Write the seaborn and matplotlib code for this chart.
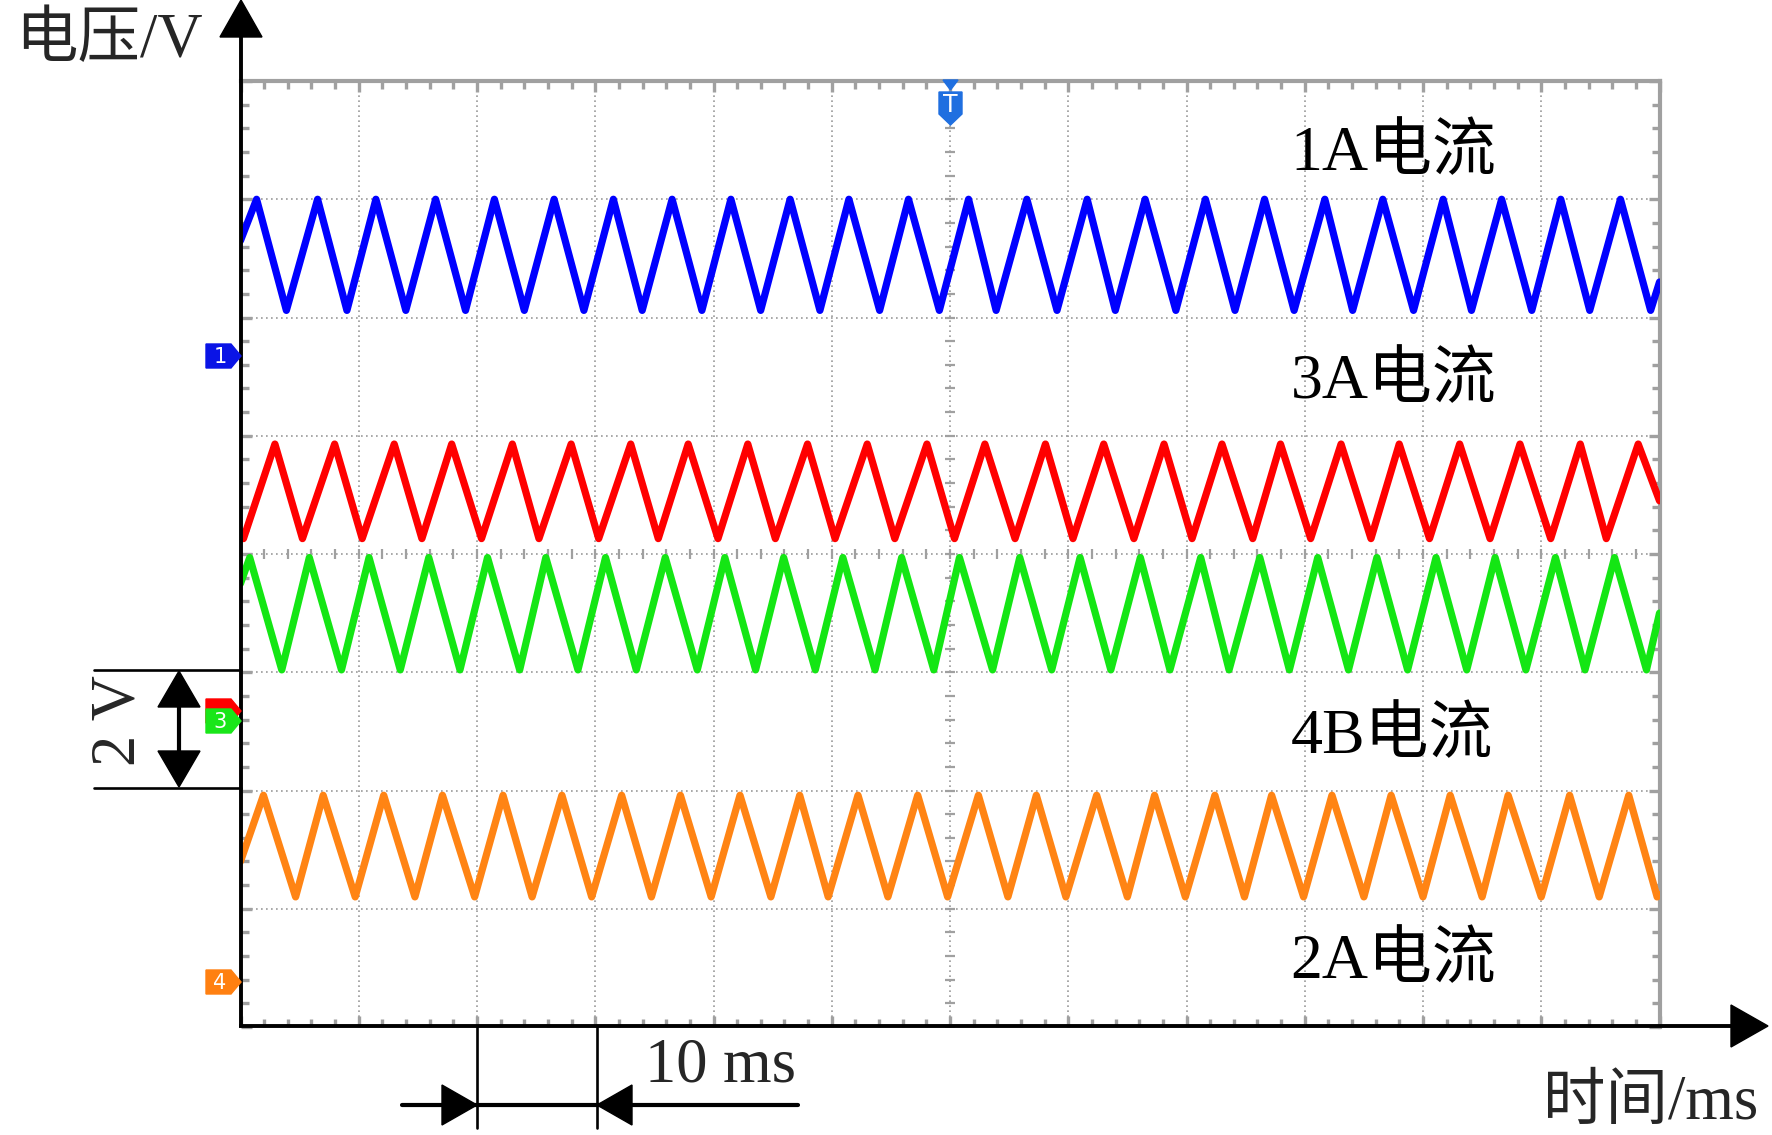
import numpy as np
import pandas as pd
import matplotlib
matplotlib.use('Agg')
import matplotlib.pyplot as plt
from matplotlib.patches import Polygon
from matplotlib.ticker import MultipleLocator
import seaborn as sns

sns.set_theme(style='white')
plt.rcParams['font.family'] = ['Liberation Serif', 'Noto Sans CJK SC']

# time in ms (10 ms/div, 12 div), amplitude in screen divisions (8 div)
channels = ['1A', '3A', '4B', '2A']
colors = ['#0000ff', '#ff0000', '#14e614', '#ff8414']

blue_peaks = [1.36, 6.52, 11.45, 16.50, 21.47, 26.52, 31.53, 36.50, 41.47, 46.48, 51.45, 56.49,
              61.57, 66.5, 71.6, 76.5, 81.6, 86.6, 91.7, 96.6, 101.7, 106.65, 111.65, 116.7]
blue_troughs = [3.88, 9.0, 13.98, 19.03, 24.0, 29.04, 33.97, 39.02, 43.99, 49.0, 54.05, 59.1,
                63.9, 69.05, 73.98, 79.1, 84.1, 89.1, 94.05, 99.2, 104.1, 109.2, 114.1, 119.25]
red_peaks = [2.91, 7.96, 13.0, 17.86, 22.99, 27.96, 33.0, 37.86, 42.9, 47.95, 53.0, 58.05,
             62.95, 68.07, 73.0, 78.1, 83.0, 87.95, 93.07, 97.99, 103.1, 108.2, 113.3, 118.2]
red_troughs = [0.25, 5.24, 10.29, 15.34, 20.38, 25.24, 30.29, 35.33, 40.38, 45.23, 50.28, 55.33,
               60.38, 65.5, 70.4, 75.55, 80.47, 85.6, 90.5, 95.6, 100.55, 105.67, 110.8, 115.5]
green_peaks = [0.78, 5.82, 10.87, 15.92, 20.89, 25.82, 30.87, 35.92, 40.96, 45.93, 50.94, 55.91,
               60.8, 65.9, 71.0, 76.1, 81.2, 86.2, 91.1, 96.1, 101.1, 106.1, 111.2, 116.2]
green_troughs = [3.49, 8.54, 13.51, 18.56, 23.61, 28.54, 33.47, 38.63, 43.56, 48.61, 53.66, 58.63,
                 63.6, 68.6, 73.6, 78.6, 83.6, 88.7, 93.7, 98.7, 103.7, 108.7, 113.7, 118.9]
orange_peaks = [1.94, 6.99, 12.11, 17.08, 22.2, 27.18, 32.23, 37.2, 42.24, 47.29, 52.22, 57.27,
                62.4, 67.3, 72.4, 77.3, 82.4, 87.2, 92.3, 97.3, 102.3, 107.2, 112.4, 117.4]
orange_troughs = [4.66, 9.7, 14.75, 19.8, 24.66, 29.7, 34.75, 39.8, 44.85, 49.7, 54.75, 59.8,
                  64.9, 69.8, 75.0, 79.9, 84.9, 89.9, 95.0, 100.0, 105.0, 110.0, 114.9, 119.8]

peak_level = [7.0, 4.93, 3.97, 1.96]
trough_level = [6.06, 4.13, 3.02, 1.1]
start_level = [6.65, 4.18, 3.75, 1.4]
end_level = [6.3, 4.45, 3.5, 1.12]

label_y = [7.25, 5.32, 2.32, 0.41]

peaks = [blue_peaks, red_peaks, green_peaks, orange_peaks]
troughs = [blue_troughs, red_troughs, green_troughs, orange_troughs]

rows = []
for i, ch in enumerate(channels):
    pts = [(0.0, start_level[i]), (120.0, end_level[i])]
    pts += [(t, peak_level[i]) for t in peaks[i]]
    pts += [(t, trough_level[i]) for t in troughs[i]]
    pts.sort()
    for t, v in pts:
        rows.append({'t': t, 'v': v, 'ch': ch})
df = pd.DataFrame(rows)

W, H = 1772, 1135
fig = plt.figure(figsize=(W / 100, H / 100), dpi=100)
x0, x1, y0, y1 = 240.5, 1659.5, 81, 1027
ax = fig.add_axes([x0 / W, (H - y1) / H, (x1 - x0) / W, (y1 - y0) / H])

grey = '#a0a0a0'
ax.set_xlim(0, 120)
ax.set_ylim(0, 8)
ax.xaxis.set_major_locator(MultipleLocator(10))
ax.yaxis.set_major_locator(MultipleLocator(1))
ax.xaxis.set_minor_locator(MultipleLocator(2))
ax.yaxis.set_minor_locator(MultipleLocator(0.2))
ax.grid(True, which='major', color='#9a9a9a', linestyle=(0, (1, 2)), linewidth=1.2)
ax.tick_params(which='both', direction='in', top=True, right=True, left=True, bottom=True,
               labelleft=False, labelbottom=False, color=grey)
ax.tick_params(which='major', length=8, width=2.4)
ax.tick_params(which='minor', length=6, width=2.4)
for s in ['top', 'right']:
    ax.spines[s].set_color(grey)
    ax.spines[s].set_linewidth(3)
for s in ['left', 'bottom']:
    ax.spines[s].set_visible(False)

# centre cross graticule marks
ax.plot(np.full(41, 60.0), np.arange(0, 8.01, 0.2), ls='none', marker='_', ms=7, mew=1.6, color=grey)
ax.plot(np.arange(0, 120.1, 2), np.full(61, 4.0), ls='none', marker='|', ms=7, mew=1.6, color=grey)

sns.lineplot(data=df, x='t', y='v', hue='ch', palette=dict(zip(channels, colors)),
             estimator=None, sort=False, linewidth=5.2, legend=False, ax=ax, zorder=3)
ax.set_xlabel('')
ax.set_ylabel('')

for ch, ly in zip(channels, label_y):
    ax.text(88.8, ly, ch + '电流', fontsize=46, ha='left', va='baseline', color='black', zorder=5)

# overlay in pixel coordinates for axes arrows and scale marks
ov = fig.add_axes([0, 0, 1, 1])
ov.set_xlim(0, W)
ov.set_ylim(H, 0)
ov.axis('off')

k = 'black'
ov.plot([241, 241], [1027, 30], color=k, lw=2.8, solid_capstyle='butt')
ov.add_patch(Polygon([(241, 0), (220, 37), (262, 37)], color=k))
ov.plot([239, 1735], [1026, 1026], color=k, lw=2.8, solid_capstyle='butt')
ov.add_patch(Polygon([(1768, 1026), (1731, 1005), (1731, 1047)], color=k))

ov.text(15, 57, '电压/V', fontsize=45, ha='left', va='baseline')
ov.text(1543, 1119, '时间/ms', fontsize=45, ha='left', va='baseline')

# 2 V scale mark
for yy in [670, 788]:
    ov.plot([94, 241], [yy, yy], color=k, lw=1.9)
ov.plot([179, 179], [700, 760], color=k, lw=3)
ov.add_patch(Polygon([(179, 671), (158, 707), (200, 707)], color=k))
ov.add_patch(Polygon([(179, 787), (158, 751), (200, 751)], color=k))
ov.text(120, 721, '2 V', fontsize=45, rotation=90, ha='center', va='center')

# 10 ms scale mark
for xx in [477, 597]:
    ov.plot([xx, xx], [1026, 1128], color=k, lw=1.9)
ov.plot([402, 798], [1105, 1105], color=k, lw=3)
ov.add_patch(Polygon([(442, 1085), (442, 1125), (477, 1105)], color=k))
ov.add_patch(Polygon([(632, 1085), (632, 1125), (597, 1105)], color=k))
ov.text(645, 1082, '10 ms', fontsize=45, ha='left', va='baseline')

# channel ground markers and trigger marker
def tag(yc, col, txt):
    ov.add_patch(Polygon([(206, yc - 12), (231, yc - 12), (241, yc), (231, yc + 12), (206, yc + 12)],
                         color=col, zorder=4))
    ov.text(220, yc + 1, txt, fontsize=15, color='white', ha='center', va='center',
            family='DejaVu Sans', zorder=5)

tag(356, '#0a14e6', '1')
tag(711, '#ff0000', '')
tag(721, '#19e619', '3')
tag(982, '#ff8011', '4')

tcol = '#1f6fe0'
ov.add_patch(Polygon([(943, 80), (958, 80), (950.5, 90)], color=tcol))
ov.add_patch(Polygon([(939, 92), (962, 92), (962, 114), (950.5, 125), (939, 114)], color=tcol))
ov.text(950.5, 105, 'T', fontsize=17, color='white', ha='center', va='center', family='DejaVu Sans')

fig.savefig('out.png', dpi=100)
